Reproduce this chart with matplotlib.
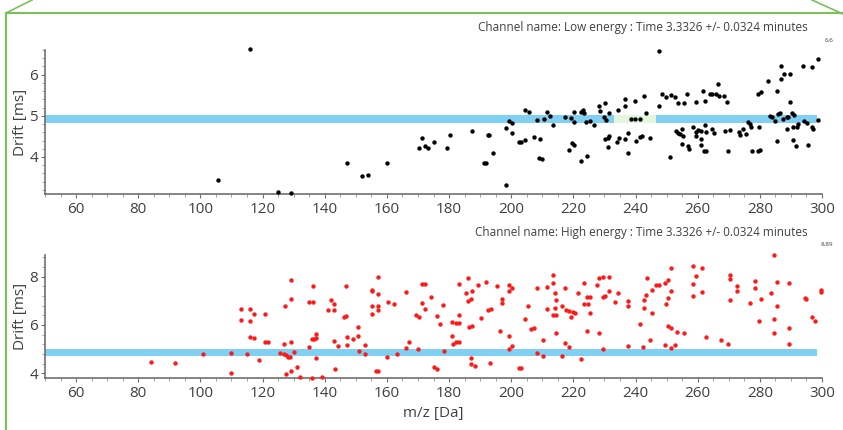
import matplotlib
matplotlib.use("Agg")
import matplotlib.pyplot as plt
from matplotlib.lines import Line2D
from matplotlib.ticker import MultipleLocator

plt.rcParams["font.family"] = ["Open Sans", "DejaVu Sans"]

# Low energy channel (black points)
low_mz = [105.8, 116, 125, 129, 147.2, 152, 154, 160, 170.3, 171.4, 172.3, 173.2, 175.2, 179.3, 180.3,
          187.3, 191.3, 192, 192.4, 193, 194.3, 198.3, 198.3, 199.4, 200.1, 200.4, 202.4, 203.1, 204.5,
          204.5, 205.6, 207.2, 208.3, 209.4, 209.0, 209.9, 210.4, 211.5, 212.5, 213.3, 217.4, 218.7,
          219.2, 219.6, 220.3, 220.3, 220.3, 222.3, 222.5, 223.0, 223.3, 224.1, 224.3, 225.2, 226.5,
          228.4, 228.7, 230, 230.3, 230.3, 230.5, 231.1, 231.1, 231.4, 231.6, 234.1, 234.5, 234.6,
          236.5, 236.5, 236.5, 237.5, 237.5, 238.6, 239.7, 239.7, 240, 241.3, 241.6, 242.2, 242.6,
          243.5, 244.5, 247.4, 247.4, 248.5, 249.7, 251, 251.5, 252.6, 253.1, 253.6, 253.6, 254.2,
          255.1, 255.1, 255.3, 255.5, 256.5, 256.9, 257.1, 258.5, 259.4, 259.4, 259.6, 260.1, 261.0,
          261.2, 261.2, 261.7, 262, 262.5, 262.5, 262.6, 262.8, 263.9, 264.7, 264.7, 265.2, 265.8,
          266.6, 266.9, 268.5, 268.7, 269.5, 269.6, 270.5, 273.3, 273.7, 274.6, 275.7, 276.2, 276.8,
          277.3, 277.5, 279.5, 279.5, 279.8, 280.2, 280.3, 282.7, 283.2, 284, 284.8, 285.4, 285.6,
          285.9, 286.5, 286.7, 286.7, 287.5, 287.8, 288.6, 288.6, 289.1, 289.7, 289.7, 290.2, 290.7,
          290.7, 291, 291.6, 292, 292.3, 293.8, 294.3, 295.1, 295.6, 296.7, 296.7, 297.2, 298.8, 298.8]
low_drift = [3.43, 6.62, 3.15, 3.13, 3.86, 3.54, 3.57, 3.86, 4.23, 4.46, 4.27, 4.22, 4.37, 4.23, 4.53,
             4.62, 3.86, 3.86, 4.53, 4.53, 4.09, 3.31, 4.70, 4.87, 4.83, 4.59, 4.37, 4.37, 4.41,
             5.13, 5.09, 4.49, 4.9, 4.43, 3.98, 3.94, 4.93, 5.09, 5.0, 4.77, 4.96, 4.17,
             4.94, 4.34, 5.1, 4.85, 4.29, 5.1, 3.9, 5.13, 5.08, 4.84, 4.03, 4.87, 4.77,
             5.24, 5.12, 4.96, 5.32, 4.43, 4.9, 4.45, 4.25, 5.08, 4.51, 4.37, 5.14, 4.47,
             5.24, 5.4, 4.43, 4.58, 4.09, 4.92, 5.37, 4.92, 4.39, 4.93, 4.49, 4.5, 5.48,
             5.06, 4.46, 6.58, 5.25, 5.52, 5.46, 3.99, 5.5, 5.46, 4.62, 4.59, 5.3, 4.57,
             4.67, 4.31, 4.51, 5.3, 5.54, 4.27, 4.19, 4.72, 4.6, 4.51, 5.33, 4.66, 4.43,
             4.63, 4.29, 5.61, 4.15, 5.37, 4.77, 4.6, 4.15, 5.53, 5.53, 4.67, 4.58, 5.52,
             5.78, 5.48, 5.48, 4.62, 5.34, 4.15, 4.65, 4.6, 4.53, 4.67, 4.57, 4.85, 4.8,
             4.72, 4.15, 4.15, 5.54, 4.74, 4.17, 5.57, 5.84, 5.0, 4.96, 4.87, 5.6, 4.39,
             5.04, 5.06, 5.9, 6.22, 4.93, 6.02, 4.96, 4.67, 4.98, 6.02, 5.33, 5.06, 4.72,
             4.42, 5.01, 4.26, 4.74, 4.8, 6.22, 4.87, 4.83, 4.3, 4.72, 6.18, 4.69, 6.38, 4.89]

# High energy channel (red points)
high_mz = [84, 91.8, 100.7, 109.9, 109.9, 114.9, 113.1, 116, 113, 115.8, 117.1, 116, 117.1, 118.9,
           120.9, 120.9, 121.9, 125.7, 126.8, 127.5, 128.2, 128.9, 127.1, 127, 129.1, 129.1, 129.1,
           127.7, 129.3, 130, 131.1, 132.2, 135.1, 135.9, 136.5, 137.2, 137.2, 135.1, 136.1, 136.1,
           137.2, 135.9, 139.1, 141, 142, 143.1, 143.1, 143.1, 143.2, 144.2, 146.1, 146.9, 146.9,
           147.2, 147.2, 149, 150.7, 150.7, 151, 153.1, 153.1, 155.1, 155.3, 157.2, 157.2, 155.1,
           157.2, 155.3, 157.2, 156.4, 157.2, 160.1, 160.3, 162.3, 163.1, 166.2, 166.2, 167.1, 169.3,
           170.3, 170.1, 171.2, 172.3, 171.2, 172.3, 174.2, 175.2, 176.2, 176.2, 177.1, 178.2, 178.4,
           181.1, 181.1, 182.2, 183.2, 181.3, 182.2, 183.2, 183.2, 183.2, 185.4, 186.2, 186.2, 187.2,
           187.3, 186.5, 187.3, 187.2, 187.2, 188.3, 189.4, 190.2, 192, 192.4, 193.4, 193.1, 195.3,
           196.3, 197.2, 197.2, 199.4, 200.4, 199.4, 199.4, 199.4, 200.2, 202.6, 203.3, 204.4, 205.5,
           206.3, 207.2, 208.3, 208.3, 210.3, 210.3, 211.4, 211.4, 213.3, 213.3, 214.2, 214.4, 214.2,
           213.3, 214.4, 214.4, 216.4, 217.4, 216.4, 217.4, 218.5, 217.6, 218.7, 219.8, 220.6, 219.4,
           221.4, 222.3, 223.5, 223.5, 224.6, 224.4, 225.2, 224.4, 225.5, 227.6, 228.2, 228.2, 229.5,
           231.4, 231.4, 229.5, 230.3, 233.3, 234.5, 229.5, 237.5, 237.5, 237.5, 241.5, 242.4, 242.6,
           242.6, 243.5, 243.7, 244.5, 245.3, 245.3, 246.5, 247.5, 249.6, 250.6, 249.6, 249.7, 250.4,
           251.5, 251.5, 250.4, 251.5, 251.5, 252.6, 253.4, 255.5, 258.5, 259.6, 258.5, 258.5, 261.5,
           261.5, 262.6, 267.6, 269.6, 270.5, 270.5, 270.5, 272.7, 272.7, 276.8, 278.6, 278.6, 279.7,
           280.5, 283.5, 284.6, 284.6, 284.6, 285.6, 285.6, 289.5, 289.5, 289.5, 294.5, 294.8, 296.7,
           297.7, 299.7, 299.7]
high_drift = [4.45, 4.42, 4.78, 4.84, 3.99, 4.78, 6.65, 6.65, 6.19, 6.14, 6.45, 5.5, 5.47, 4.56,
              6.46, 5.29, 5.29, 4.84, 4.78, 4.74, 4.65, 4.65, 6.79, 5.22, 7.86, 7.07, 5.28,
              3.96, 4.07, 4.88, 4.26, 3.85, 5.08, 5.43, 5.4, 5.46, 5.64, 6.94, 6.94, 7.6,
              4.63, 3.82, 3.85, 6.63, 7.04, 6.87, 6.6, 5.32, 4.16, 5.11, 6.32, 6.36, 7.59,
              5.48, 5.15, 5.4, 5.91, 5.54, 4.91, 5.18, 4.78, 7.45, 7.38, 8.0, 7.29, 6.76,
              6.78, 6.46, 6.6, 4.11, 4.1, 4.67, 6.94, 6.85, 4.8, 7.35, 5.06, 5.29, 6.39,
              6.32, 5.02, 7.67, 7.7, 6.92, 6.67, 7.16, 4.24, 4.19, 6.35, 6.02, 6.83, 4.91,
              5.54, 6.12, 6.09, 6.09, 5.22, 5.29, 5.27, 6.39, 7.67, 7.31, 7.93, 6.97, 7.08,
              7.42, 5.91, 5.94, 4.63, 4.4, 4.3, 7.66, 6.28, 7.77, 6.63, 6.64, 4.42, 7.59,
              5.74, 7.08, 6.9, 7.66, 7.53, 7.39, 5.54, 4.98, 5.13, 4.22, 4.23, 6.23, 6.8,
              5.81, 5.88, 7.52, 4.85, 5.36, 4.7, 7.56, 6.67, 8.08, 7.72, 7.31, 7.01, 6.69,
              6.39, 6.39, 5.68, 6.76, 7.52, 4.7, 5.25, 5.08, 6.6, 6.57, 6.53, 6.49, 6.32,
              7.33, 4.58, 7.74, 6.87, 6.87, 7.15, 7.15, 5.74, 6.5, 7.66, 7.93, 5.68, 8.0,
              7.97, 7.42, 7.15, 7.19, 6.94, 7.33, 4.98, 6.97, 6.76, 5.13, 6.02, 5.08, 7.04,
              6.71, 7.22, 7.93, 5.36, 7.45, 6.5, 7.66, 7.66, 7.74, 7.86, 5.18, 6.87, 7.1,
              8.36, 7.39, 5.94, 5.88, 5.04, 5.18, 5.7, 5.68, 8.43, 8.01, 7.7, 7.19, 8.34,
              7.35, 5.5, 5.36, 5.2, 8.08, 7.88, 7.01, 7.6, 7.39, 6.92, 7.81, 7.53, 6.14,
              7.08, 7.31, 8.89, 6.26, 5.68, 7.77, 6.8, 7.74, 5.88, 5.21, 7.12, 7.05, 6.32,
              6.16, 7.46, 7.35]

xticks = [60, 80, 100, 120, 140, 160, 180, 200, 220, 240, 260, 280, 300]
low_band = (4.82, 5.02)
high_band = (4.70, 5.00)
band_end = 298.5
sel_window = (233, 246.5)
low_title = "Channel name: Low energy : Time 3.3326 +/- 0.0324 minutes"
high_title = "Channel name: High energy : Time 3.3326 +/- 0.0324 minutes"

W, H = 843, 430
fig = plt.figure(figsize=(W / 100, H / 100), dpi=100)

BAND = "#7fd0f2"
TXT = "#404040"


def style(ax, ylim, ymajor):
    ax.set_xlim(50, 300)
    ax.set_ylim(*ylim)
    ax.set_xticks(xticks)
    ax.xaxis.set_minor_locator(MultipleLocator(5))
    ax.yaxis.set_major_locator(MultipleLocator(ymajor))
    ax.yaxis.set_minor_locator(MultipleLocator(ymajor / 5))
    for s in ("top", "right"):
        ax.spines[s].set_visible(False)
    for s in ("left", "bottom"):
        ax.spines[s].set_color("#707070")
        ax.spines[s].set_linewidth(1.2)
    ax.tick_params(which="major", length=3, width=0.8, color="#707070",
                   labelsize=11, labelcolor=TXT, pad=3)
    ax.tick_params(axis="y", which="major", pad=2)
    ax.tick_params(which="minor", length=2, width=0.6, color="#909090")
    ax.set_ylabel("Drift [ms]", fontsize=11, color=TXT)
    ax.yaxis.set_label_coords(-0.022, 0.5)


# top panel
ax1 = fig.add_axes([45 / W, 1 - 194 / H, 777 / W, 144 / H])
ax1.fill_between([50, band_end], *low_band, color=BAND, lw=0, zorder=1)
ax1.fill_between(sel_window, *low_band, color="#e2f7dc", lw=0, zorder=1)
ax1.scatter(low_mz, low_drift, s=10, color="black", lw=0, zorder=3, clip_on=False)
style(ax1, (3.1, 6.6), 1)
ax1.set_yticks([4, 5, 6])

# bottom panel
ax2 = fig.add_axes([45 / W, 1 - 378 / H, 777 / W, 123 / H])
ax2.fill_between([50, band_end], *high_band, color=BAND, lw=0, zorder=1)
ax2.scatter(high_mz, high_drift, s=10, color="#ff1a1a", lw=0, zorder=3, clip_on=False)
style(ax2, (3.8, 8.89), 2)
ax2.set_xlabel("m/z [Da]", fontsize=11, color=TXT, labelpad=3)

# channel titles and max labels
fig.text(808 / W, 1 - 27 / H, low_title, ha="right", va="center", fontsize=8.5, color=TXT)
fig.text(808 / W, 1 - 232 / H, high_title, ha="right", va="center", fontsize=8.5, color=TXT)
fig.text(829 / W, 1 - 40 / H, "6.6", ha="center", va="center", fontsize=4.5, color=TXT)
fig.text(827 / W, 1 - 245 / H, "8.89", ha="center", va="center", fontsize=4.5, color=TXT)

# green callout frame
G = "#7cc05a"
fig.add_artist(Line2D([6 / W, 6 / W], [0, 1 - 13 / H], color=G, lw=1.5))
fig.add_artist(Line2D([6 / W, 843 / W], [1 - 13 / H, 1 - 13 / H], color=G, lw=1.5))
fig.add_artist(Line2D([6 / W, 32 / W], [1 - 13 / H, 1], color=G, lw=1.2))
fig.add_artist(Line2D([812 / W, 843 / W], [1, 1 - 14 / H], color=G, lw=1.2))

fig.savefig("out.png", dpi=100)
